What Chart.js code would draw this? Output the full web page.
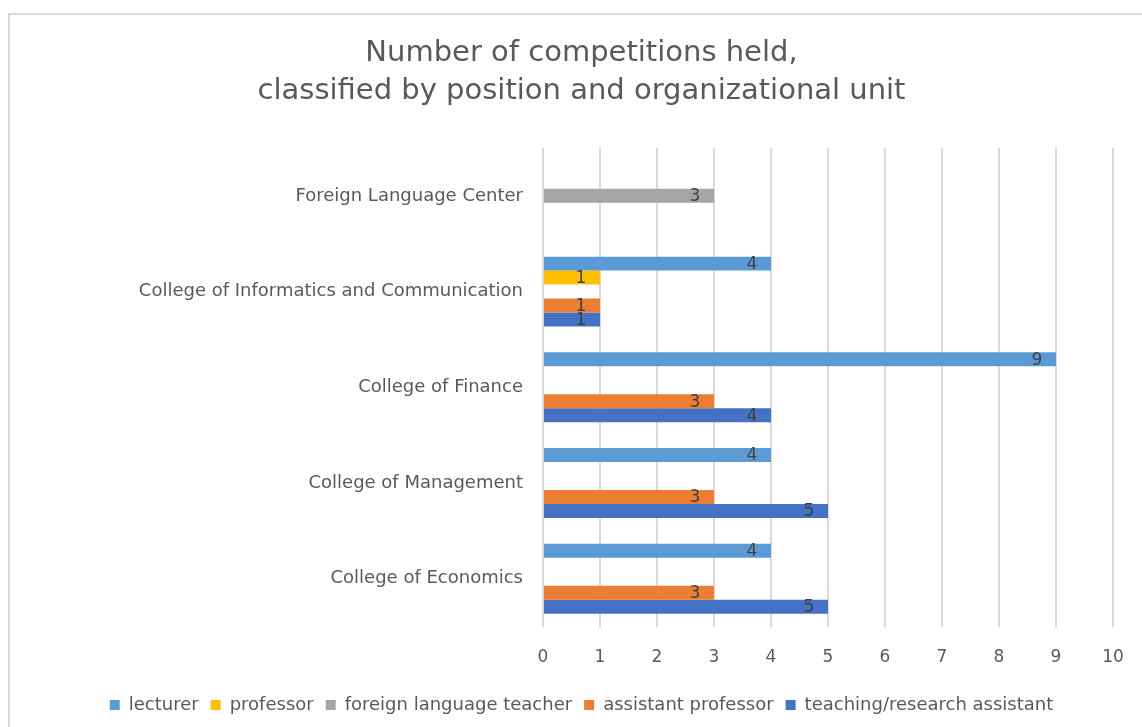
<!DOCTYPE html>
<html>
<head>
<meta charset="utf-8">
<script src="https://cdn.jsdelivr.net/npm/chart.js@4/dist/chart.umd.min.js"></script>
<style>
  html, body { margin: 0; padding: 0; background: #fff; }
  .wrap { position: absolute; left: 0; top: 0; width: 1142px; height: 727px; }
  .frame { position: absolute; left: 8px; top: 13px; width: 1150px; height: 730px;
           border: 2px solid #d9d9d9; box-sizing: border-box; pointer-events: none; }
</style>
</head>
<body>
<div class="wrap">
  <canvas id="chart"></canvas>
  <div class="frame"></div>
</div>
<script>
// === Data ===
const units = ['Foreign Language Center', 'College of Informatics and Communication',
               'College of Finance', 'College of Management', 'College of Economics'];
const lecturer        = [null, 4, 9, 4, 4];
const professor       = [null, 1, null, null, null];
const foreignTeacher  = [3, null, null, null, null];
const assistantProf   = [null, 1, 3, 3, 3];
const teachingAsst    = [null, 1, 4, 5, 5];
const xTicks = [0, 1, 2, 3, 4, 5, 6, 7, 8, 9, 10];

const FONT = "'DejaVu Sans', sans-serif";

// === Value labels near the bar end (inside) ===
const valueLabels = {
  id: 'valueLabels',
  afterDatasetsDraw(chart) {
    const ctx = chart.ctx;
    ctx.save();
    ctx.font = '17px ' + FONT;
    ctx.fillStyle = '#404040';
    ctx.textAlign = 'center';
    ctx.textBaseline = 'middle';
    chart.data.datasets.forEach((ds, i) => {
      const meta = chart.getDatasetMeta(i);
      meta.data.forEach((bar, j) => {
        const v = ds.data[j];
        if (v === null || v === undefined) return;
        ctx.fillText(String(v), bar.x - 19, bar.y + 1);
      });
    });
    ctx.restore();
  }
};

new Chart(document.getElementById('chart'), {
  type: 'bar',
  data: {
    labels: units,
    datasets: [
      { label: 'lecturer', data: lecturer, backgroundColor: '#5b9bd5' },
      { label: 'professor', data: professor, backgroundColor: '#ffc000' },
      { label: 'foreign language teacher', data: foreignTeacher, backgroundColor: '#a5a5a5' },
      { label: 'assistant professor', data: assistantProf, backgroundColor: '#ed7d31' },
      { label: 'teaching/research assistant', data: teachingAsst, backgroundColor: '#4472c4' }
    ]
  },
  options: {
    indexAxis: 'y',
    responsive: true,
    maintainAspectRatio: false,
    animation: false,
    categoryPercentage: 0.73,
    barPercentage: 1,
    // title/legend are centred on the outer frame, not the canvas
    layout: { padding: { left: 30, right: 9, top: 14, bottom: 3 } },
    plugins: {
      title: {
        display: true,
        text: ['Number of competitions held,', 'classified by position and organizational unit'],
        color: '#595959',
        font: { family: FONT, size: 29, weight: 'normal', lineHeight: 1.31 },
        padding: { top: 20, bottom: 38 }
      },
      legend: {
        position: 'bottom',
        labels: {
          color: '#595959',
          font: { family: FONT, size: 18 },
          boxWidth: 10,
          boxHeight: 10,
          padding: 12
        }
      },
      tooltip: { enabled: false }
    },
    scales: {
      x: {
        min: 0,
        max: 10,
        afterBuildTicks: (axis) => { axis.ticks = xTicks.map(v => ({ value: v })); },
        afterFit: (axis) => { axis.paddingRight = 29; axis.height -= 5; },
        grid: { color: '#d9d9d9', lineWidth: 2, drawTicks: false },
        border: { display: false },
        ticks: { color: '#595959', font: { family: FONT, size: 17 }, padding: 21 }
      },
      y: {
        grid: { display: false },
        border: { display: false },
        afterFit: (axis) => { axis.width = 513; },
        ticks: { color: '#595959', font: { family: FONT, size: 18 }, padding: 12 }
      }
    }
  },
  plugins: [valueLabels]
});
</script>
</body>
</html>
